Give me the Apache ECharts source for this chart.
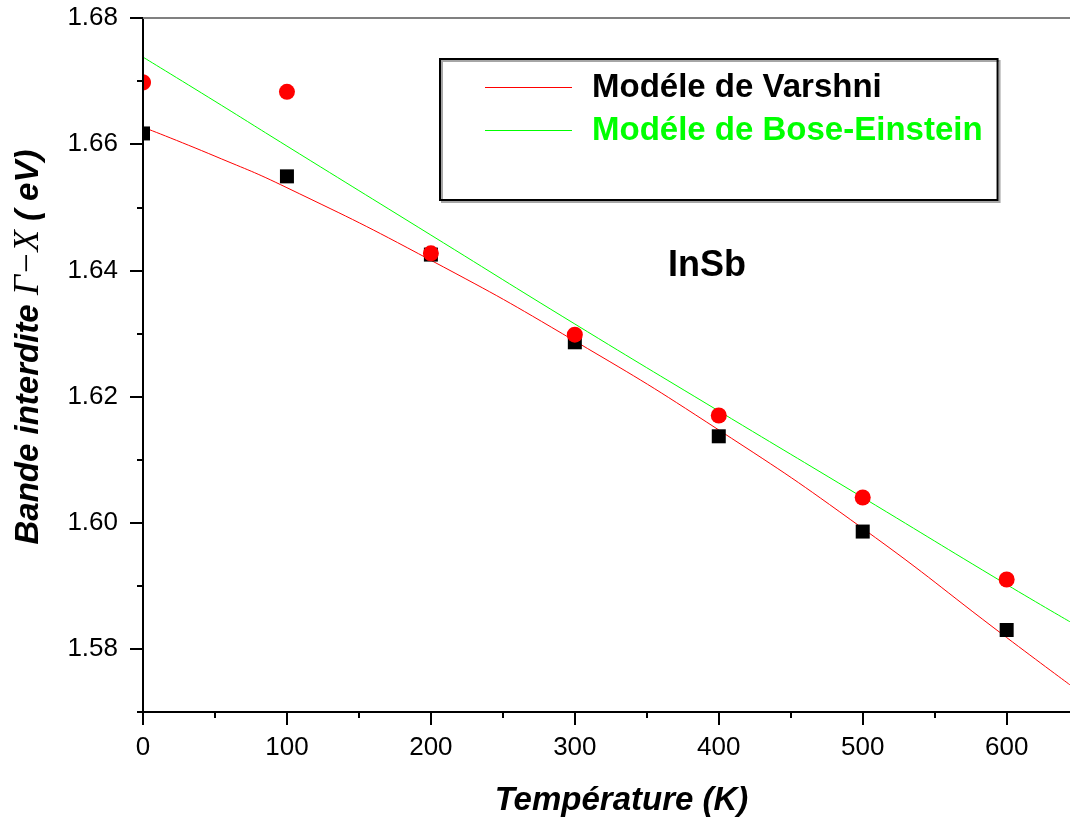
<!DOCTYPE html>
<html>
<head>
<meta charset="utf-8">
<script src="https://cdn.jsdelivr.net/npm/echarts@6/dist/echarts.min.js"></script>
<style>
  html, body { margin: 0; padding: 0; background: #fff; }
  #chart { width: 1070px; height: 823px; }
</style>
</head>
<body>
<div id="chart"></div>
<script>
// measured points (K, eV)
const temps = [0, 100, 200, 300, 400, 500, 600];
const squarePoints = [1.6617, 1.6549, 1.6425, 1.6286, 1.6137, 1.5986, 1.5830];
const circlePoints = [1.6698, 1.6683, 1.6427, 1.6298, 1.6170, 1.6040, 1.5910];

// fitted curves
const fitTemps = [0, 50, 100, 200, 300, 400, 500, 600, 644];
const varshni = [1.6627, 1.6581, 1.6531, 1.6416, 1.6288, 1.6147, 1.5991, 1.5818, 1.5743];
const boseEinstein = [1.6738, 1.6668, 1.6597, 1.6456, 1.6315, 1.6177, 1.6040, 1.5902, 1.5843];

// ticks
const xMajor = [0, 100, 200, 300, 400, 500, 600];
const xMinor = [50, 150, 250, 350, 450, 550];
const yMajor = [1.58, 1.60, 1.62, 1.64, 1.66, 1.68];
const yMinor = [1.57, 1.59, 1.61, 1.63, 1.65, 1.67];

const FONT = '"Liberation Sans", Arial, sans-serif';
const pair = (xs, ys) => xs.map((x, i) => [x, ys[i]]);

const chart = echarts.init(document.getElementById('chart'));

const hiddenAxisBits = {
  z: 10,
  splitLine: { show: false },
  axisLabel: { show: false },
  axisLine: { show: false }
};

// markers are drawn by hand so they get cut at the frame like in the original
const squareItem = (params, api) => {
  const p = api.coord([api.value(0), api.value(1)]);
  const cs = params.coordSys;
  const shape = echarts.graphic.clipRectByRect(
    { x: p[0] - 7, y: p[1] - 7, width: 14, height: 14 },
    { x: cs.x, y: cs.y, width: cs.width, height: cs.height }
  );
  return shape && { type: 'rect', shape: shape, style: { fill: '#000' } };
};
const circleItem = (params, api) => {
  const p = api.coord([api.value(0), api.value(1)]);
  const r = 8;
  const x0 = params.coordSys.x;
  if (p[0] - r >= x0) {
    return { type: 'circle', shape: { cx: p[0], cy: p[1], r: r }, style: { fill: '#ff0000' } };
  }
  // only the part right of the y axis
  const th = Math.acos(Math.max(-1, Math.min(1, (x0 - p[0]) / r)));
  const pts = [];
  for (let i = 0; i <= 40; i++) {
    const a = -th + (2 * th * i) / 40;
    pts.push([p[0] + r * Math.cos(a), p[1] + r * Math.sin(a)]);
  }
  return { type: 'polygon', shape: { points: pts }, style: { fill: '#ff0000' } };
};

chart.setOption({
  backgroundColor: '#fff',
  animation: false,
  grid: { left: 143, top: 18, right: 0, bottom: 111, containLabel: false },
  legend: {
    orient: 'vertical',
    left: 440,
    top: 59,
    padding: [12, 15, 53, 45],
    itemWidth: 87,
    itemHeight: 1,
    itemGap: 10,
    borderColor: '#000',
    borderWidth: 2,
    shadowColor: 'rgba(0,0,0,0.35)',
    shadowOffsetX: 2,
    shadowOffsetY: 2,
    textStyle: { fontFamily: FONT, fontSize: 33, fontWeight: 'bold', padding: [0, 0, 0, 15] },
    data: [
      {
        name: 'Modéle de Varshni', icon: 'rect',
        itemStyle: { color: '#ff0000', borderWidth: 0 }, textStyle: { color: '#000' }
      },
      {
        name: 'Modéle de Bose-Einstein', icon: 'rect',
        itemStyle: { color: '#00ff00', borderWidth: 0 }, textStyle: { color: '#00ff00' }
      }
    ]
  },
  xAxis: [
    {
      type: 'value', position: 'bottom', min: 0, max: 644, z: 10,
      splitLine: { show: false },
      axisLine: { lineStyle: { color: '#000', width: 2 } },
      axisTick: { customValues: xMajor, length: 13, lineStyle: { color: '#000', width: 2 } },
      axisLabel: { customValues: xMajor, margin: 23, color: '#000', fontFamily: FONT, fontSize: 26 },
      name: 'Température (K)',
      nameLocation: 'middle',
      nameGap: 72,
      nameTextStyle: { fontFamily: FONT, fontSize: 33, fontWeight: 'bold', fontStyle: 'italic', color: '#000', padding: [0, 0, 0, 30] }
    },
    {
      type: 'value', position: 'bottom', min: 0, max: 644, ...hiddenAxisBits,
      axisTick: { customValues: xMinor, length: 6, lineStyle: { color: '#000', width: 2 } }
    },
    {
      type: 'value', position: 'top', min: 0, max: 644, z: 10,
      splitLine: { show: false }, axisLabel: { show: false }, axisTick: { show: false },
      axisLine: { lineStyle: { color: '#808080', width: 2 } }
    }
  ],
  yAxis: [
    {
      type: 'value', position: 'left', min: 1.57, max: 1.68, z: 10,
      splitLine: { show: false },
      axisLine: { lineStyle: { color: '#000', width: 2 } },
      axisTick: { customValues: yMajor, length: 13, lineStyle: { color: '#000', width: 2 } },
      axisLabel: {
        customValues: yMajor, margin: 25, color: '#000', fontFamily: FONT, fontSize: 26,
        formatter: v => v.toFixed(2)
      },
      name: '{a|Bande interdite }{b|Γ−X}{a| ( eV)}',
      nameLocation: 'middle',
      nameGap: 97,
      nameTextStyle: {
        padding: [0, 0, 0, 36],
        rich: {
          a: { fontFamily: FONT, fontSize: 33, fontWeight: 'bold', fontStyle: 'italic', color: '#000' },
          b: { fontFamily: '"Liberation Serif", "Times New Roman", serif', fontSize: 35, fontStyle: 'italic', color: '#000' }
        }
      }
    },
    {
      type: 'value', position: 'left', min: 1.57, max: 1.68, ...hiddenAxisBits,
      axisTick: { customValues: yMinor, length: 6, lineStyle: { color: '#000', width: 2 } }
    }
  ],
  graphic: [
    {
      type: 'text', left: 668, top: 248,
      style: { text: 'InSb', fontFamily: FONT, fontSize: 36, fontWeight: 'bold', fill: '#000' }
    }
  ],
  series: [
    {
      name: 'Modéle de Varshni', type: 'line', smooth: true, symbol: 'none',
      lineStyle: { color: '#ff0000', width: 1 }, itemStyle: { color: '#ff0000' },
      data: pair(fitTemps, varshni), z: 2
    },
    {
      name: 'Modéle de Bose-Einstein', type: 'line', smooth: true, symbol: 'none',
      lineStyle: { color: '#00ff00', width: 1 }, itemStyle: { color: '#00ff00' },
      data: pair(fitTemps, boseEinstein), z: 2
    },
    {
      name: 'Mesures (carrés)', type: 'custom', renderItem: squareItem,
      encode: { x: 0, y: 1 }, data: pair(temps, squarePoints), z: 3
    },
    {
      name: 'Mesures (cercles)', type: 'custom', renderItem: circleItem,
      encode: { x: 0, y: 1 }, data: pair(temps, circlePoints), z: 4
    }
  ]
});
</script>
</body>
</html>
